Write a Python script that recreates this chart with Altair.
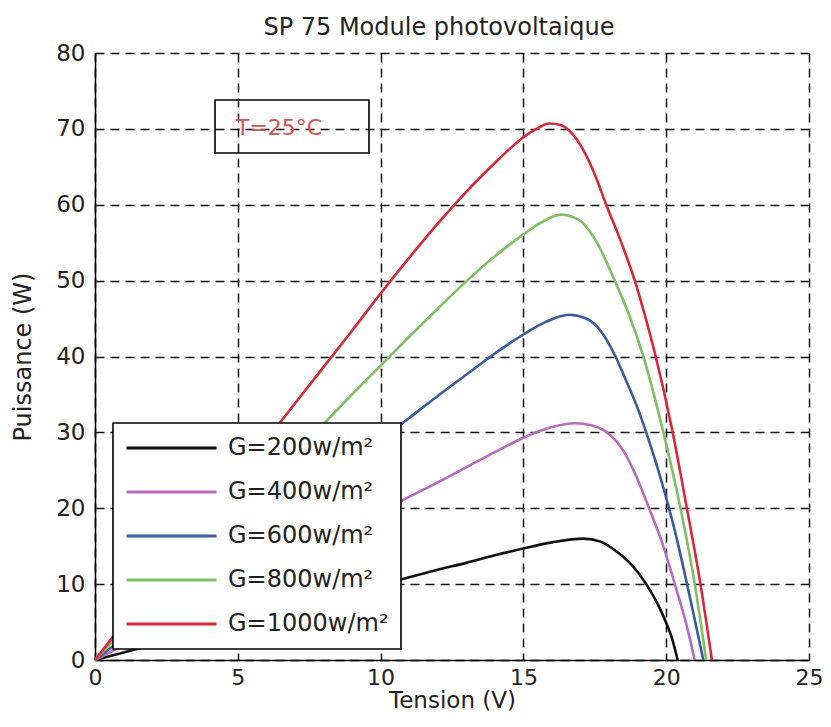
import altair as alt
import pandas as pd

# ---- data ----
series_labels = ["G=200w/m²", "G=400w/m²", "G=600w/m²", "G=800w/m²", "G=1000w/m²"]
series_colors = ["#111111", "#b86bbf", "#3b5c9c", "#7fbf66", "#d8283c"]

v_200 = [0, 1, 2, 3, 4, 5, 6, 7, 8, 9, 10, 11, 12, 13, 14, 15, 16, 17.1, 17.7, 18.3, 18.7, 19.0, 19.3, 19.7, 20.0, 20.2, 20.4]
p_200 = [0, 1.0, 2.0, 3.0, 4.0, 5.0, 6.0, 6.95, 7.9, 8.9, 9.9, 10.9, 11.9, 12.8, 13.8, 14.7, 15.5, 16.0, 15.6, 14.2, 12.9, 11.6, 10.0, 7.4, 4.9, 2.9, 0]

v_400 = [0, 1, 2, 3, 4, 5, 6, 7, 8, 9, 10, 11, 12, 13, 14, 15, 16, 16.8, 17.4, 18.0, 18.5, 19.0, 19.4, 19.9, 20.3, 20.7, 21.0]
p_400 = [0, 1.95, 3.9, 5.85, 7.8, 9.75, 11.7, 13.6, 15.6, 17.5, 19.5, 21.5, 23.4, 25.4, 27.4, 29.3, 30.7, 31.2, 30.9, 29.8, 27.6, 23.8, 20.0, 15.0, 10.0, 4.8, 0]

v_600 = [0, 1, 2, 3, 4, 5, 6, 7, 8, 9, 10, 11, 12, 13, 14, 15, 15.8, 16.6, 17.2, 17.7, 18.2, 18.6, 19.0, 19.3, 19.7, 20.1, 20.4, 20.7, 21.0, 21.3]
p_600 = [0, 2.9, 5.8, 8.7, 11.6, 14.5, 17.4, 20.3, 23.2, 26.1, 29.0, 31.9, 34.8, 37.6, 40.4, 42.9, 44.6, 45.5, 45.0, 43.4, 40.2, 36.8, 33.2, 30.0, 25.3, 20.0, 15.5, 10.5, 5.3, 0]

v_800 = [0, 1, 2, 3, 4, 5, 6, 7, 8, 9, 10, 11, 12, 13, 14, 15, 15.6, 16.3, 16.9, 17.5, 18.2, 18.7, 19.2, 19.9, 20.5, 21.0, 21.4]
p_800 = [0, 3.9, 7.8, 11.7, 15.6, 19.5, 23.4, 27.3, 31.1, 35.0, 38.8, 42.6, 46.3, 49.9, 53.2, 56.1, 57.6, 58.7, 58.1, 55.5, 50.0, 45.5, 40.0, 30.0, 20.0, 10.0, 0]

v_1000 = [0, 1, 2, 3, 4, 5, 6, 7, 8, 9, 10, 11, 12, 13, 14, 14.5, 15, 15.5, 15.9, 16.3, 16.7, 17.1, 17.5, 17.9, 18.4, 18.9, 19.3, 19.6, 20.2, 20.7, 21.2, 21.6]
p_1000 = [0, 4.85, 9.7, 14.55, 19.4, 24.2, 29.0, 33.8, 38.6, 43.4, 48.3, 53.0, 57.5, 61.7, 65.5, 67.3, 68.9, 70.1, 70.7, 70.5, 69.4, 67.2, 64.0, 60.0, 55.3, 50.0, 44.8, 40.5, 30.5, 20.5, 10.0, 0]

x_ticks = [0, 5, 10, 15, 20, 25]
y_ticks = [0, 10, 20, 30, 40, 50, 60, 70, 80]

title_text = "SP 75 Module photovoltaique"
x_title = "Tension (V)"
y_title = "Puissance (W)"
note_text = "T=25°C"

# ---- build table ----
rows = []
for lab, vs, ps in zip(series_labels, [v_200, v_400, v_600, v_800, v_1000],
                       [p_200, p_400, p_600, p_800, p_1000]):
    for v, p in zip(vs, ps):
        rows.append({"Tension": v, "Puissance": p, "Serie": lab})
df = pd.DataFrame(rows)

FONT = "DejaVu Sans"

lines = alt.Chart(df).mark_line(strokeWidth=2.6, interpolate="monotone").encode(
    x=alt.X("Tension:Q",
            scale=alt.Scale(domain=[0, 25], nice=False, zero=False),
            axis=alt.Axis(values=x_ticks, title=x_title, grid=True,
                          gridDash=[9, 6], gridColor="#111111", gridWidth=1.5, gridOpacity=1,
                          ticks=False, domainColor="#000000", domainWidth=1.6,
                          labelFont=FONT, labelFontSize=22, labelColor="#222222",
                          labelPadding=7, labelFlush=False,
                          titleFont=FONT, titleFontSize=23, titleFontWeight="normal",
                          titleColor="#222222", titlePadding=1)),
    y=alt.Y("Puissance:Q",
            scale=alt.Scale(domain=[0, 80], nice=False),
            axis=alt.Axis(values=y_ticks, title=y_title, grid=True,
                          gridDash=[9, 6], gridColor="#111111", gridWidth=1.5, gridOpacity=1,
                          ticks=False, domainColor="#000000", domainWidth=1.6,
                          labelFont=FONT, labelFontSize=23, labelColor="#222222",
                          labelPadding=10, labelFlush=False,
                          titleFont=FONT, titleFontSize=24, titleFontWeight="normal",
                          titleColor="#222222", titlePadding=20)),
    color=alt.Color("Serie:N",
                    scale=alt.Scale(domain=series_labels, range=series_colors),
                    sort=series_labels,
                    legend=alt.Legend(title=None, orient="none", legendX=18, legendY=370,
                                      symbolType="stroke", symbolSize=8100, symbolStrokeWidth=3,
                                      clipHeight=26, rowPadding=18, padding=12, labelOffset=10,
                                      labelLimit=400,
                                      labelFont=FONT, labelFontSize=24, labelColor="#222222",
                                      fillColor="white", strokeColor="black")),
)

note_df = pd.DataFrame({"k": [0]})
note_box = alt.Chart(note_df).mark_rect(fillOpacity=0, stroke="black", strokeWidth=1.6).encode(
    x=alt.value(120), x2=alt.value(274), y=alt.value(47), y2=alt.value(100))
note_txt = alt.Chart(note_df).mark_text(text=note_text, color="#d95050", fontSize=22, font=FONT,
                                        align="center", baseline="middle").encode(
    x=alt.value(184), y=alt.value(75))

chart = alt.layer(lines, note_box, note_txt).properties(
    width=714, height=607,
    autosize=alt.AutoSizeParams(type="none"),
    padding={"left": 87, "top": 45, "right": 14, "bottom": 59},
    title=alt.TitleParams(title_text, font=FONT, fontSize=24, fontWeight="normal",
                          color="#222222", anchor="middle", frame="group", dx=-13, offset=2),
).configure_view(stroke=None).configure_legend(strokeWidth=1.6)

chart.save("out.html", embed_options={"renderer": "svg", "actions": False})
